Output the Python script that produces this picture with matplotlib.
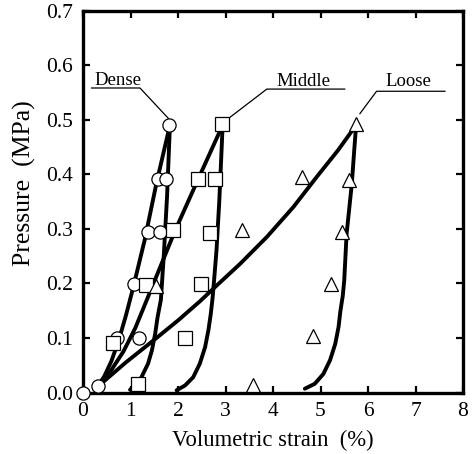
import matplotlib
matplotlib.use("Agg")
import matplotlib.pyplot as plt

plt.rcParams['font.family'] = ['Liberation Serif', 'DejaVu Serif']

# ---- measured data points (volumetric strain %, pressure MPa) ----
dense_x = [0.00, 0.31, 0.71, 1.18, 1.08, 1.37, 1.62, 1.57, 1.75, 1.82]
dense_y = [0.000, 0.012, 0.099, 0.099, 0.198, 0.295, 0.295, 0.392, 0.392, 0.490]
middle_x = [0.64, 1.16, 1.33, 2.15, 2.48, 1.89, 2.67, 2.43, 2.78, 2.93]
middle_y = [0.090, 0.015, 0.197, 0.100, 0.199, 0.297, 0.292, 0.391, 0.391, 0.492]
loose_x = [1.54, 3.35, 3.57, 4.85, 5.22, 4.62, 5.45, 5.61, 5.75]
loose_y = [0.195, 0.297, 0.013, 0.103, 0.198, 0.395, 0.295, 0.390, 0.492]

# ---- model curves ----
dense_load_x = [0.30, 0.45, 0.60, 0.75, 0.90, 1.05, 1.30, 1.55, 1.83]
dense_load_y = [0.010, 0.030, 0.058, 0.095, 0.140, 0.190, 0.280, 0.385, 0.490]
dense_unload_x = [0.99, 1.10, 1.23, 1.37, 1.45, 1.52, 1.57, 1.64, 1.70, 1.77, 1.83]
dense_unload_y = [0.005, 0.012, 0.028, 0.053, 0.077, 0.108, 0.138, 0.170, 0.250, 0.360, 0.490]

middle_load_x = [0.30, 0.55, 0.85, 1.10, 1.34, 1.64, 1.94, 2.43, 2.94]
middle_load_y = [0.010, 0.035, 0.075, 0.118, 0.169, 0.233, 0.297, 0.392, 0.490]
middle_unload_x = [1.97, 2.15, 2.32, 2.46, 2.57, 2.64, 2.69, 2.73, 2.76, 2.81, 2.87, 2.91, 2.94]
middle_unload_y = [0.004, 0.013, 0.028, 0.053, 0.083, 0.114, 0.144, 0.175, 0.206, 0.260, 0.352, 0.430, 0.490]

loose_load_x = [0.30, 0.90, 1.52, 2.00, 2.46, 2.74, 3.31, 3.87, 4.43, 4.92, 5.37, 5.75]
loose_load_y = [0.010, 0.055, 0.098, 0.132, 0.167, 0.190, 0.236, 0.285, 0.340, 0.395, 0.444, 0.490]
loose_unload_x = [4.67, 4.88, 5.06, 5.20, 5.31, 5.38, 5.42, 5.47, 5.50, 5.55, 5.66, 5.71, 5.75]
loose_unload_y = [0.007, 0.016, 0.034, 0.059, 0.089, 0.120, 0.150, 0.178, 0.206, 0.291, 0.383, 0.444, 0.490]

# ---- labels ----
x_ticks = [0, 1, 2, 3, 4, 5, 6, 7, 8]
y_ticks = [0.0, 0.1, 0.2, 0.3, 0.4, 0.5, 0.6, 0.7]
y_tick_labels = ["0.0", "0.1", "0.2", "0.3", "0.4", "0.5", "0.6", "0.7"]
series_names = ["Dense", "Middle", "Loose"]
label_pos_x = [0.74, 4.64, 6.86]
label_pos_y = [0.564, 0.561, 0.561]
leader_x = [[0.18, 1.20, 1.80], [3.06, 3.87, 5.51], [5.83, 6.18, 7.62]]
leader_y = [[0.558, 0.558, 0.502], [0.502, 0.556, 0.556], [0.511, 0.552, 0.552]]

fig = plt.figure(figsize=(4.75, 4.54), dpi=100)
ax = fig.add_axes([83 / 475, 61.5 / 454, 380 / 475, 382 / 454])

lw = 2.8
for cx, cy in [(dense_load_x, dense_load_y), (dense_unload_x, dense_unload_y),
               (middle_load_x, middle_load_y), (middle_unload_x, middle_unload_y),
               (loose_load_x, loose_load_y), (loose_unload_x, loose_unload_y)]:
    ax.plot(cx, cy, color='black', lw=lw, solid_capstyle='round', zorder=2)

mk = dict(linestyle='none', markerfacecolor='white', markeredgecolor='black',
          markeredgewidth=0.9, clip_on=False, zorder=3)
ax.plot(dense_x, dense_y, marker='o', markersize=9.5, **mk)
ax.plot(middle_x, middle_y, marker='s', markersize=10, **mk)
ax.plot(loose_x, loose_y, marker='^', markersize=10, **mk)

for name, tx, ty, lx, ly in zip(series_names, label_pos_x, label_pos_y, leader_x, leader_y):
    ax.plot(lx, ly, color='black', lw=0.9, zorder=2)
    ax.text(tx, ty, name, ha='center', va='baseline', fontsize=13.5)

ax.set_xlim(0, 8)
ax.set_ylim(0, 0.7)
ax.set_xticks(x_ticks)
ax.set_yticks(y_ticks)
ax.set_yticklabels(y_tick_labels)
ax.tick_params(direction='in', top=True, right=True, length=5, width=1.6,
               labelsize=15.5, pad=7)
for s in ax.spines.values():
    s.set_linewidth(2.4)

ax.set_xlabel("Volumetric strain  (%)", fontsize=16.3, va='top')
ax.xaxis.set_label_coords(0.5, -0.098)
ax.set_ylabel("Pressure  (MPa)", fontsize=18.5, va='center')
ax.yaxis.set_label_coords(-0.155, 0.547)

fig.savefig("out.png", dpi=100)
